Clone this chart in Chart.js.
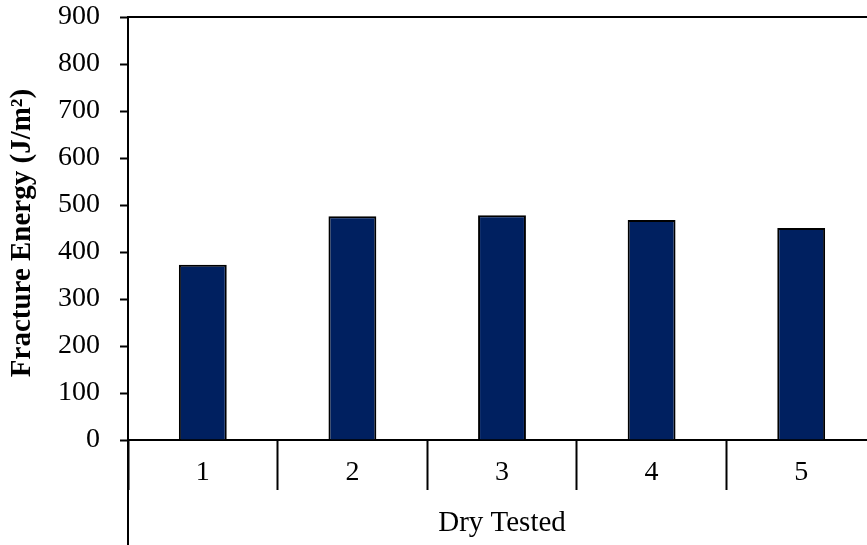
<!DOCTYPE html>
<html>
<head>
<meta charset="utf-8">
<script src="https://cdn.jsdelivr.net/npm/chart.js@4/dist/chart.umd.min.js"></script>
<style>
html,body{margin:0;padding:0;background:#fff;overflow:hidden;width:867px;height:545px;}
canvas{display:block;}
</style>
</head>
<body>
<canvas id="c" width="877" height="545"></canvas>
<script>
const categories = ['1', '2', '3', '4', '5'];
const fractureEnergy = [373, 476, 478, 468, 451];
const groupLabel = 'Dry Tested';
const yTitle = 'Fracture Energy (J/m\u00B2)';
const yMin = 0, yMax = 900, yStep = 100;

const FONT = "'Liberation Serif', 'Times New Roman', serif";

const framePlugin = {
  id: 'frame',
  afterDraw(chart) {
    const {ctx, chartArea} = chart;
    ctx.save();
    ctx.strokeStyle = '#000';
    ctx.lineWidth = 2;
    ctx.beginPath();
    ctx.moveTo(chartArea.left - 1, chartArea.top);
    ctx.lineTo(chartArea.right, chartArea.top);
    ctx.lineTo(chartArea.right, chartArea.bottom);
    ctx.moveTo(chartArea.left, chartArea.bottom);
    ctx.lineTo(chartArea.left, chart.height);
    ctx.stroke();
    // rotated y-axis title
    ctx.translate(23, (chartArea.top + chartArea.bottom) / 2 + 4.5);
    ctx.rotate(-Math.PI / 2);
    ctx.fillStyle = '#000';
    ctx.font = 'bold 29px ' + FONT;
    ctx.textAlign = 'center';
    ctx.textBaseline = 'middle';
    ctx.fillText(yTitle, 0, 0);
    ctx.restore();
  }
};

new Chart(document.getElementById('c'), {
  type: 'bar',
  data: {
    labels: categories,
    datasets: [{
      data: fractureEnergy,
      backgroundColor: '#002060',
      borderColor: '#000000',
      borderWidth: 2,
      barPercentage: 0.32,
      categoryPercentage: 1.0
    }]
  },
  options: {
    responsive: false,
    animation: false,
    devicePixelRatio: 1,
    layout: { padding: { top: 17, right: 1, bottom: 0, left: 0 } },
    plugins: { legend: { display: false }, tooltip: { enabled: false } },
    scales: {
      x: {
        type: 'category',
        offset: true,
        grid: {
          offset: true,
          drawOnChartArea: false,
          drawTicks: true,
          tickLength: 50,
          tickColor: '#000',
          tickWidth: 2,
          color: '#000'
        },
        border: { display: true, color: '#000', width: 2 },
        ticks: {
          color: '#000',
          font: { family: FONT, size: 28, lineHeight: 1.2 },
          padding: -34,
          maxRotation: 0,
          autoSkip: false
        },
        title: {
          display: true,
          text: groupLabel,
          color: '#000',
          font: { family: FONT, size: 29, lineHeight: 1 },
          padding: { top: 0, bottom: 7 }
        },
        afterFit(scale) { scale.height = 105; }
      },
      y: {
        min: yMin,
        max: yMax,
        ticks: {
          stepSize: yStep,
          color: '#000',
          font: { family: FONT, size: 28 },
          padding: 20
        },
        grid: {
          drawOnChartArea: false,
          drawTicks: true,
          tickLength: 8,
          tickColor: '#000',
          tickWidth: 2,
          color: '#000'
        },
        border: { display: true, color: '#000', width: 2 },
        title: { display: false },
        afterFit(scale) {
          scale.width = 128;
          scale.paddingTop = 0;
          scale.paddingBottom = 0;
        }
      }
    }
  },
  plugins: [framePlugin]
});
</script>
</body>
</html>
